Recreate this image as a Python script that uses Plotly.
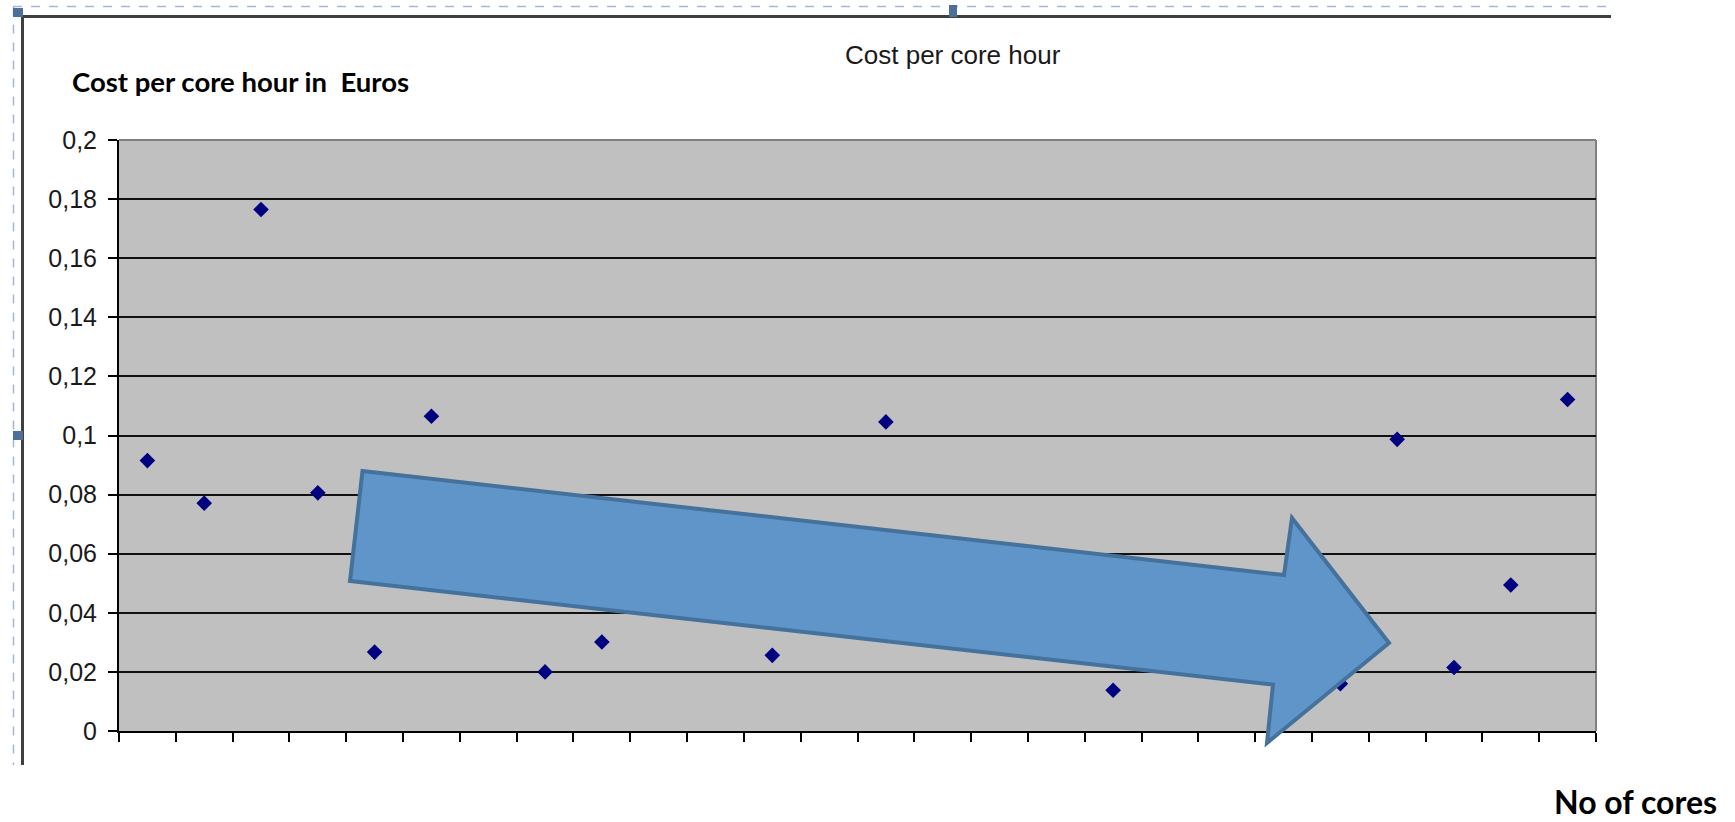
import plotly.graph_objects as go

# ---- data -------------------------------------------------------------
# 26 core-count slots along the category axis; None = no visible value
slots = list(range(1, 27))
cost_per_core_hour = [
    0.0915, 0.0771, 0.1765, 0.0806, 0.0267, 0.1065, None, 0.0200, 0.0301,
    None, None, 0.0256, None, 0.1046, None, None, None, 0.0138, None, None,
    None, 0.0160, 0.0987, 0.0215, 0.0494, 0.1122,
]
y_ticks = [0, 0.02, 0.04, 0.06, 0.08, 0.10, 0.12, 0.14, 0.16, 0.18, 0.20]
y_tick_labels = ["0", "0,02", "0,04", "0,06", "0,08", "0,1",
                 "0,12", "0,14", "0,16", "0,18", "0,2"]

# ---- page geometry ----------------------------------------------------
W, H = 1735, 822
ML, MR, MT, MB = 119, 139, 140, 91
PW, PH = W - ML - MR, H - MT - MB


def px(x):
    """page pixel x -> paper x"""
    return (x - ML) / PW


def py(y):
    """page pixel y -> paper y"""
    return (H - MB - y) / PH


fig = go.Figure()

fig.add_trace(go.Scatter(
    x=slots,
    y=cost_per_core_hour,
    mode="markers",
    marker=dict(symbol="diamond", size=12, color="#000080",
                line=dict(width=0)),
    hoverinfo="skip",
    showlegend=False,
))

shapes = []

# grey frame on top / right of the plot area (above the grid)
shapes.append(dict(type="line", xref="paper", yref="paper", x0=0, x1=1, y0=1, y1=1,
                   line=dict(color="#808080", width=2), layer="between"))
shapes.append(dict(type="line", xref="paper", yref="paper", x0=1, x1=1, y0=0, y1=1,
                   line=dict(color="#808080", width=2), layer="between"))

# chart object frame: dashed selection outline + solid border
shapes.append(dict(type="line", xref="paper", yref="paper",
                   x0=px(13), x1=px(1611), y0=py(6.5), y1=py(6.5),
                   line=dict(color="#a4b8d3", width=1.5, dash="dash")))
shapes.append(dict(type="line", xref="paper", yref="paper",
                   x0=px(13.5), x1=px(13.5), y0=py(6.5), y1=py(765),
                   line=dict(color="#a4b8d3", width=1.5, dash="dash")))
shapes.append(dict(type="line", xref="paper", yref="paper",
                   x0=px(21), x1=px(1611), y0=py(16.5), y1=py(16.5),
                   line=dict(color="#404040", width=3)))
shapes.append(dict(type="line", xref="paper", yref="paper",
                   x0=px(22.5), x1=px(22.5), y0=py(15), y1=py(765),
                   line=dict(color="#404040", width=3)))

# selection handles
for (hx0, hy0, hx1, hy1) in [(13, 8, 23, 17), (949, 5, 957, 17), (13, 431, 23, 440)]:
    shapes.append(dict(type="rect", xref="paper", yref="paper",
                       x0=px(hx0), x1=px(hx1), y0=py(hy1), y1=py(hy0),
                       fillcolor="#4f6f98", line=dict(width=0)))

# big downward-trend arrow
arrow_pts = [(362.5, 471), (1284, 575), (1292, 518), (1389, 643),
             (1267, 743), (1273, 684.5), (350, 581)]
path = "M " + " L ".join(f"{px(a):.5f},{py(b):.5f}" for a, b in arrow_pts) + " Z"
shapes.append(dict(type="path", xref="paper", yref="paper", path=path,
                   fillcolor="#6095c9", line=dict(color="#44729c", width=4),
                   layer="above"))

annotations = [
    dict(text="Cost per core hour", xref="paper", yref="paper",
         x=px(953), y=py(55), xanchor="center", yanchor="middle",
         showarrow=False,
         font=dict(family="Liberation Sans, Arial", size=26, color="#1a1a1a")),
    dict(text="<b>Cost per core hour in  Euros</b>", xref="paper", yref="paper",
         x=px(70), y=py(81), xanchor="left", yanchor="middle",
         showarrow=False,
         font=dict(family="Lato, Open Sans", size=27.5, color="#000000")),
    dict(text="<b>No of cores</b>", xref="paper", yref="paper",
         x=px(1719), y=py(801), xanchor="right", yanchor="middle",
         showarrow=False,
         font=dict(family="Lato, Open Sans", size=32, color="#000000")),
]

fig.update_layout(
    width=W, height=H,
    margin=dict(l=ML, r=MR, t=MT, b=MB, pad=0),
    paper_bgcolor="#ffffff",
    plot_bgcolor="#c0c0c0",
    font=dict(family="Liberation Sans, Arial", size=25, color="#1a1a1a"),
    shapes=shapes,
    annotations=annotations,
    showlegend=False,
    xaxis=dict(
        range=[0.5, 26.5],
        tickmode="array",
        tickvals=[s - 0.5 for s in slots] + [slots[-1] + 0.5],
        showticklabels=False,
        ticks="outside", ticklen=9, tickwidth=2, tickcolor="#000000",
        showgrid=False, zeroline=False,
        showline=True, linecolor="#000000", linewidth=2,
        fixedrange=True,
    ),
    yaxis=dict(
        range=[0, 0.2],
        tickmode="array",
        tickvals=y_ticks,
        ticktext=y_tick_labels,
        ticks="outside", ticklen=9, tickwidth=2, tickcolor="#000000",
        ticklabelstandoff=6,
        showgrid=True, gridcolor="#111111", gridwidth=2,
        zeroline=False,
        showline=True, linecolor="#000000", linewidth=2,
        tickfont=dict(family="Liberation Sans, Arial", size=25, color="#1a1a1a"),
        fixedrange=True,
    ),
)

fig.write_html("out.html", config={"displayModeBar": False})
